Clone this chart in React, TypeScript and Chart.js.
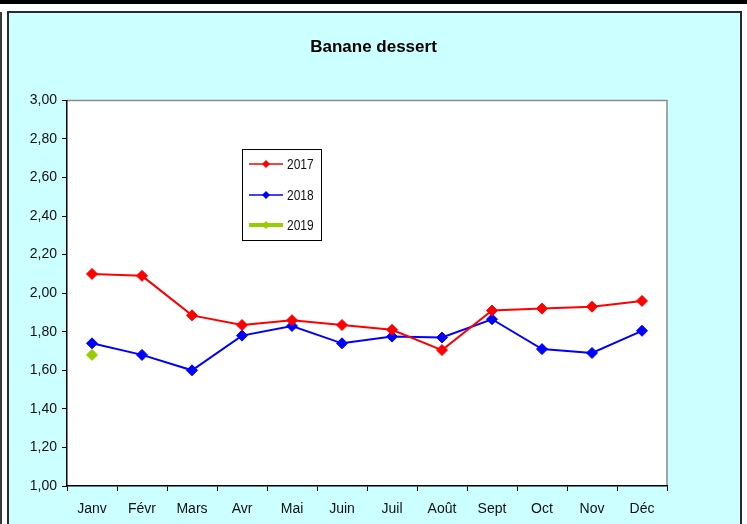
import React, { useEffect, useRef } from "react";
import { Chart, registerables } from "chart.js";

Chart.register(...registerables);

const chartTitle = "Banane dessert";
const months = ["Janv", "Févr", "Mars", "Avr", "Mai", "Juin", "Juil", "Août", "Sept", "Oct", "Nov", "Déc"];
const seriesLabels = ["2017", "2018", "2019"];
const values2017 = [2.10, 2.09, 1.885, 1.835, 1.86, 1.835, 1.81, 1.705, 1.91, 1.92, 1.93, 1.96];
const values2018 = [1.74, 1.68, 1.60, 1.78, 1.83, 1.74, 1.775, 1.77, 1.865, 1.71, 1.69, 1.805];
const values2019: (number | null)[] = [1.68, null, null, null, null, null, null, null, null, null, null, null];
const yMin = 1.0;
const yMax = 3.0;
const yStep = 0.2;

const seriesColors = ["#FF0000", "#0000FF", "#99CC00"];
const FONT = "'Liberation Sans', Arial, sans-serif";

const plotDecor = {
  id: "plotDecor",
  beforeDraw(chart: any) {
    const { ctx, chartArea } = chart;
    ctx.save();
    ctx.fillStyle = "#FFFFFF";
    ctx.fillRect(chartArea.left, chartArea.top, chartArea.right - chartArea.left, chartArea.bottom - chartArea.top);
    ctx.strokeStyle = "#8C8C8C";
    ctx.lineWidth = 1.5;
    ctx.beginPath();
    ctx.moveTo(chartArea.left, chartArea.top);
    ctx.lineTo(chartArea.right, chartArea.top);
    ctx.lineTo(chartArea.right, chartArea.bottom);
    ctx.stroke();
    ctx.restore();
  },
  afterDraw(chart: any) {
    const { ctx } = chart;
    const bx = 242, by = 149, bw = 79, bh = 91;
    ctx.save();
    ctx.fillStyle = "#FFFFFF";
    ctx.fillRect(bx, by, bw, bh);
    ctx.strokeStyle = "#000000";
    ctx.lineWidth = 1;
    ctx.strokeRect(bx + 0.5, by + 0.5, bw, bh);
    const rowY = [164, 195, 225];
    chart.data.datasets.forEach((ds: any, i: number) => {
      const y = rowY[i];
      ctx.strokeStyle = ds.borderColor;
      ctx.lineWidth = i === 2 ? 4 : 1.5;
      ctx.beginPath();
      ctx.moveTo(249, y);
      ctx.lineTo(283, y);
      ctx.stroke();
      ctx.fillStyle = ds.backgroundColor;
      ctx.beginPath();
      const r = 4;
      ctx.moveTo(266 - r, y);
      ctx.lineTo(266, y - r);
      ctx.lineTo(266 + r, y);
      ctx.lineTo(266, y + r);
      ctx.closePath();
      ctx.fill();
      ctx.save();
      ctx.translate(287, y + 1);
      ctx.scale(0.8, 1);
      ctx.fillStyle = "#111111";
      ctx.font = "15px " + FONT;
      ctx.textBaseline = "middle";
      ctx.textAlign = "left";
      ctx.fillText(ds.label, 0, 0);
      ctx.restore();
    });
    ctx.restore();
  },
};

export default function App() {
  const ref = useRef<HTMLCanvasElement | null>(null);

  useEffect(() => {
    if (!ref.current) return;
    const datasets = [values2017, values2018, values2019].map((vals, i) => ({
      label: seriesLabels[i],
      data: vals,
      borderColor: seriesColors[i],
      backgroundColor: seriesColors[i],
      pointBackgroundColor: seriesColors[i],
      pointBorderColor: seriesColors[i],
      borderWidth: 2,
      pointStyle: "rectRot" as const,
      pointRadius: 5.5,
      pointBorderWidth: 1,
      tension: 0,
      spanGaps: false,
    }));
    const chart = new Chart(ref.current, {
      type: "line",
      data: { labels: months, datasets },
      options: {
        responsive: false,
        animation: false,
        devicePixelRatio: 1,
        layout: { padding: { left: 0, right: 0, top: 0, bottom: 0 } },
        plugins: {
          legend: { display: false },
          tooltip: { enabled: false },
          title: {
            display: true,
            text: chartTitle,
            color: "#000000",
            font: { family: FONT, size: 17, weight: "bold" },
            padding: { top: 37, bottom: 43 },
          },
        },
        scales: {
          x: {
            offset: true,
            grid: { display: true, offset: true, drawOnChartArea: false, drawTicks: true, tickLength: 5, color: "#000000" },
            border: { display: true, color: "#000000", width: 1.5 },
            ticks: { color: "#111111", font: { family: FONT, size: 14 }, padding: 10, autoSkip: false, maxRotation: 0 },
            afterFit: (s: any) => { s.height = 38; },
          },
          y: {
            min: yMin,
            max: yMax,
            grid: { display: true, drawOnChartArea: false, drawTicks: true, tickLength: 5, color: "#000000" },
            border: { display: true, color: "#000000", width: 1.5 },
            ticks: {
              stepSize: yStep,
              color: "#111111",
              font: { family: FONT, size: 14 },
              padding: 5,
              callback: (v: any) => Number(v).toFixed(2).replace(".", ","),
            },
            afterFit: (s: any) => { s.width = 67; },
          },
          yRight: {
            position: "right",
            display: true,
            grid: { display: false, drawOnChartArea: false },
            border: { display: false },
            ticks: { display: false },
            afterFit: (s: any) => { s.width = 80; },
          },
        },
      },
      plugins: [plotDecor],
    });
    return () => chart.destroy();
  }, []);

  return (
    <div style={{ position: "fixed", left: 0, top: 0, width: 747, height: 524, background: "#FFFFFF", overflow: "hidden" }}>
      <div style={{ position: "absolute", left: 0, top: 0, width: 747, height: 4, background: "#000000" }} />
      <div style={{ position: "absolute", left: 0, top: 12, width: 2, height: 520, background: "#3A3A3A" }} />
      <div style={{ position: "absolute", left: 7, top: 11, width: 731, height: 530, background: "#CCFFFF", border: "2px solid #2A2A2A" }} />
      <canvas ref={ref} width={747} height={524} style={{ position: "absolute", left: 0, top: 0, width: 747, height: 524 }} />
    </div>
  );
}
